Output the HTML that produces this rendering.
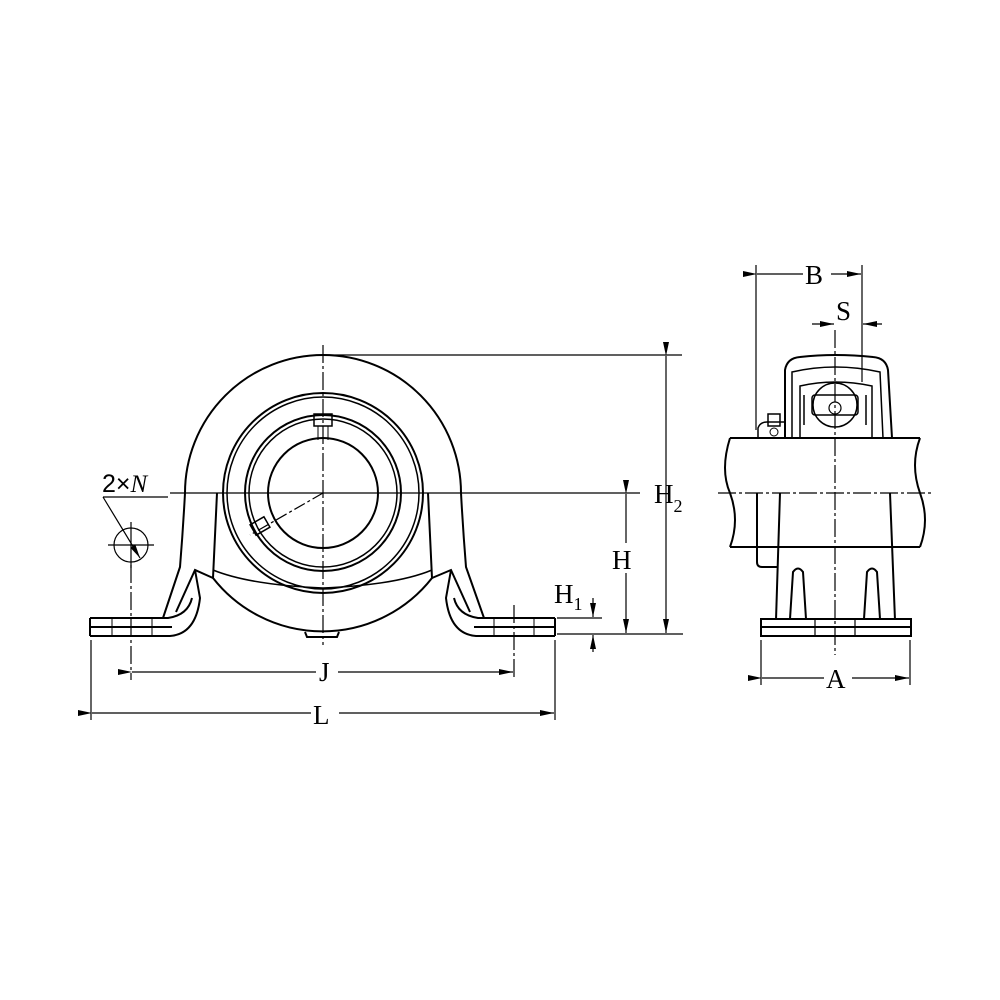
<!DOCTYPE html>
<html><head><meta charset="utf-8"><style>html,body{margin:0;padding:0;background:#fff}svg{display:block}</style></head><body>
<svg width="1000" height="1000" viewBox="0 0 1000 1000" xmlns="http://www.w3.org/2000/svg">
<defs>
<marker id="a" viewBox="0 0 14 6" refX="14" refY="3" markerWidth="14" markerHeight="6" markerUnits="userSpaceOnUse" orient="auto"><path d="M0,0 L14,3 L0,6 z" fill="#000"/></marker>
</defs>
<g fill="none" stroke="#000" stroke-width="2">
<path d="M163,618 L180,567 Q183,530 185,493 A138,138 0 0 1 461,493 Q463,530 466,567 L484,618"/>
<path d="M176,612 L195,570 L213,578"/>
<path d="M470,612 L451,570 L432,578"/>
<path d="M217,493 L213,578 A139,139 0 0 0 432,578 L428,493"/>
<circle cx="323" cy="493" r="100"/>
<circle cx="323" cy="493" r="96" stroke-width="1.5"/>
<circle cx="323" cy="493" r="78"/>
<circle cx="323" cy="493" r="74" stroke-width="1.5"/>
<circle cx="323" cy="493" r="55"/>
<path d="M213,570 Q250,585 323,588 Q396,585 432,570" stroke-width="1.5"/>
<path d="M90,618 L168,618 Q188,615 192,598 M90,636 L170,636 Q196,634 200,598 L195,570"/>
<line x1="90" y1="627" x2="172" y2="627"/>
<line x1="90" y1="618" x2="90" y2="636"/>
<path d="M555,618 L478,618 Q458,615 454,598 M555,636 L476,636 Q450,634 446,598 L451,570"/>
<line x1="474" y1="627" x2="555" y2="627"/>
<line x1="555" y1="618" x2="555" y2="636"/>
<line x1="112" y1="618" x2="112" y2="636" stroke-width="1"/><line x1="152" y1="618" x2="152" y2="636" stroke-width="1"/>
<line x1="494" y1="618" x2="494" y2="636" stroke-width="1"/><line x1="534" y1="618" x2="534" y2="636" stroke-width="1"/>
<path d="M305,632 L307,637 L337,637 L339,632"/>
<rect x="314" y="414" width="18" height="12" stroke-width="1.5"/>
<path d="M318,426 V440 M328,426 V440" stroke-width="1"/>
<rect x="252" y="520" width="16" height="12" transform="rotate(-30 260 526)" stroke-width="1.5"/>
</g>
<g stroke="#000" stroke-width="1.2" fill="none">
<line x1="323" y1="345" x2="323" y2="645" stroke-dasharray="18,3,3,3"/>
<line x1="170" y1="493" x2="640" y2="493"/>
<line x1="323" y1="355" x2="682" y2="355"/>
<line x1="323" y1="493" x2="250" y2="535" stroke-dasharray="12,3,3,3"/>
<line x1="557" y1="634" x2="683" y2="634"/>
<line x1="557" y1="618" x2="602" y2="618"/>
<line x1="666" y1="356" x2="666" y2="633" marker-start="url(#a)" marker-end="url(#a)"/>
<line x1="626" y1="494" x2="626" y2="633" marker-start="url(#a)" marker-end="url(#a)"/>
<line x1="593" y1="598" x2="593" y2="617" marker-end="url(#a)"/>
<line x1="593" y1="652" x2="593" y2="635" marker-end="url(#a)"/>
<line x1="91" y1="640" x2="91" y2="720"/><line x1="555" y1="640" x2="555" y2="720"/>
<line x1="131" y1="565" x2="131" y2="680" stroke-dasharray="18,3,3,3"/><line x1="514" y1="605" x2="514" y2="680" stroke-dasharray="18,3,3,3"/>
<line x1="132" y1="672" x2="513" y2="672" marker-start="url(#a)" marker-end="url(#a)"/>
<line x1="92" y1="713" x2="554" y2="713" marker-start="url(#a)" marker-end="url(#a)"/>
<circle cx="131" cy="545" r="17"/>
<line x1="108" y1="545" x2="154" y2="545"/><line x1="131" y1="522" x2="131" y2="568"/>
<line x1="103" y1="497" x2="168" y2="497"/>
<line x1="103" y1="497" x2="140" y2="558" marker-end="url(#a)"/>
</g>
<g fill="none" stroke="#000" stroke-width="2">
<path d="M730,438 L920,438 M730,547 L920,547"/>
<path d="M730,438 Q720,470 730,493 Q740,520 730,547"/>
<path d="M920,438 Q910,465 920,493 Q930,520 920,547"/>
<path d="M780,493 L776,620 M890,493 L895,620"/>
<path d="M757,493 V562 Q757,567 762,567 H777"/>
<rect x="761" y="619" width="150" height="17"/>
<line x1="761" y1="627" x2="911" y2="627"/>
<path d="M790,619 L793,572 Q798,565 803,572 L806,619"/>
<path d="M864,619 L867,572 Q872,565 877,572 L880,619"/>
<path d="M785,438 L785,370 Q787,358 800,357 Q835,353 873,357 Q886,358 888,370 L892,438"/>
<path d="M792,438 L792,372 Q835,362 880,372 L883,438" stroke-width="1.5"/>
<path d="M800,438 V386 Q835,378 872,386 V438" stroke-width="1.5"/>
<circle cx="835" cy="405" r="22" stroke-width="1.5"/>
<rect x="812" y="395" width="46" height="20" rx="3" stroke-width="1.5"/>
<path d="M804,395 V425 M866,395 V425" stroke-width="1.5"/>
<path d="M758,438 V428 Q760,422 767,422 H785" stroke-width="1.5"/>
<rect x="768" y="414" width="12" height="12" stroke-width="1.5"/>
<circle cx="774" cy="432" r="4" stroke-width="1"/>
<ellipse cx="835" cy="408" rx="6" ry="6" stroke-width="1.2"/>
</g>
<g stroke="#000" stroke-width="1.2" fill="none">
<line x1="835" y1="330" x2="835" y2="655" stroke-dasharray="18,3,3,3"/>
<line x1="718" y1="493" x2="932" y2="493" stroke-dasharray="18,3,3,3"/>
<line x1="815" y1="619" x2="815" y2="636"/><line x1="855" y1="619" x2="855" y2="636"/>
<line x1="756" y1="265" x2="756" y2="430"/>
<line x1="862" y1="265" x2="862" y2="382"/>
<line x1="757" y1="274" x2="861" y2="274" marker-start="url(#a)" marker-end="url(#a)"/>
<line x1="812" y1="324" x2="834" y2="324" marker-end="url(#a)"/>
<line x1="882" y1="324" x2="863" y2="324" marker-end="url(#a)"/>
<line x1="761" y1="640" x2="761" y2="685"/><line x1="910" y1="640" x2="910" y2="685"/>
<line x1="762" y1="678" x2="909" y2="678" marker-start="url(#a)" marker-end="url(#a)"/>
</g>
<g font-family="Liberation Serif, serif" font-size="27" fill="#000">
<rect x="803" y="260" width="28" height="28" fill="#fff"/>
<text x="805" y="284">B</text>
<text x="836" y="320">S</text>
<rect x="824" y="664" width="28" height="28" fill="#fff"/>
<text x="826" y="688">A</text>
<text x="654" y="503">H<tspan font-size="18" dy="9">2</tspan></text>
<rect x="610" y="543" width="32" height="30" fill="#fff"/>
<text x="612" y="569">H</text>
<text x="554" y="603">H<tspan font-size="18" dy="7">1</tspan></text>
<rect x="316" y="658" width="22" height="28" fill="#fff"/>
<text x="319" y="681">J</text>
<rect x="311" y="699" width="28" height="28" fill="#fff"/>
<text x="313" y="724">L</text>
</g>
<text x="102" y="492" font-family="Liberation Sans, sans-serif" font-size="25" fill="#000">2×<tspan font-family="Liberation Serif, serif" font-style="italic">N</tspan></text>
</svg>
</body></html>
